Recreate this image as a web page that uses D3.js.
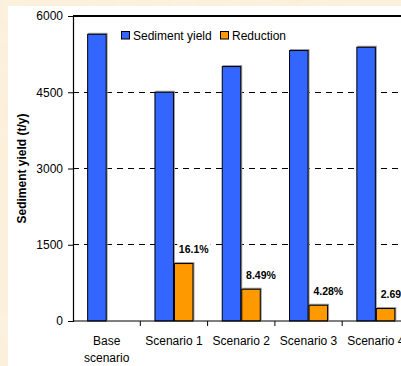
<!DOCTYPE html>
<html>
<head>
<meta charset="utf-8">
<script src="https://cdn.jsdelivr.net/npm/d3@7"></script>
<style>
  html, body { margin: 0; padding: 0; background: #f9ead0; }
  svg { display: block; font-family: Arial, "Liberation Sans", sans-serif; }
</style>
</head>
<body>
<svg id="chart" width="401" height="366"></svg>
<script>
// Sediment yield per scenario and the reduction relative to the base scenario
const categories = ["Base|scenario", "Scenario 1", "Scenario 2", "Scenario 3", "Scenario 4"];
const sedimentYield = [5650, 4510, 5015, 5330, 5395];
const reduction = [0, 1140, 635, 320, 255];
const reductionLabels = ["", "16.1%", "8.49%", "4.28%", "2.69%"];
const yTicks = [0, 1500, 3000, 4500, 6000];
const seriesNames = ["Sediment yield", "Reduction"];
const seriesColors = ["#3366ff", "#ff9900"];

const svg = d3.select("#chart");

// parchment backdrop with a soft mottled texture
const defs = svg.append("defs");
const f = defs.append("filter").attr("id", "paper").attr("x", 0).attr("y", 0).attr("width", "100%").attr("height", "100%");
f.append("feTurbulence").attr("type", "fractalNoise").attr("baseFrequency", "0.035").attr("numOctaves", 3).attr("seed", 4).attr("result", "n");
f.append("feColorMatrix").attr("in", "n").attr("type", "matrix")
  .attr("values", "0 0 0 0 0.965  0 0 0 0 0.895  0 0 0 0 0.775  0 0 0 -0.9 0.75");
svg.append("rect").attr("width", 401).attr("height", 366).attr("fill", "#fbefd8");
svg.append("rect").attr("width", 401).attr("height", 366).attr("filter", "url(#paper)");

// white chart area
svg.append("rect").attr("x", 8).attr("y", 6).attr("width", 393).attr("height", 360).attr("fill", "#ffffff");

const plot = { left: 73, right: 409.5, top: 16, bottom: 321 };

const x = d3.scaleBand().domain(categories).range([plot.left, plot.right]).paddingInner(0).paddingOuter(0);
const xSub = d3.scaleBand().domain(seriesNames).range([0, x.bandwidth()]).paddingInner(0).paddingOuter(0.725);
const y = d3.scaleLinear().domain([0, 6000]).range([plot.bottom, plot.top]);

const clip = defs.append("clipPath").attr("id", "area");
clip.append("rect").attr("x", 0).attr("y", 0).attr("width", 401).attr("height", 366);

const g = svg.append("g").attr("clip-path", "url(#area)");

// dashed gridlines
g.selectAll("line.grid").data(yTicks.filter(t => t > 0 && t < 6000)).join("line")
  .attr("class", "grid")
  .attr("x1", plot.left).attr("x2", plot.right)
  .attr("y1", d => y(d)).attr("y2", d => y(d))
  .attr("stroke", "#000").attr("stroke-width", 1).attr("stroke-dasharray", "6,5")
  .attr("shape-rendering", "crispEdges");

// plot frame (top and right)
g.append("path")
  .attr("d", `M${plot.left},${y(6000)}H${plot.right}V${plot.bottom}`)
  .attr("fill", "none").attr("stroke", "#000").attr("stroke-width", 1.2)
  .attr("shape-rendering", "crispEdges");

// bars
const rows = categories.map((c, i) => ({ c, i, vals: [sedimentYield[i], reduction[i]] }));
const groups = g.selectAll("g.cat").data(rows).join("g").attr("class", "cat")
  .attr("transform", d => `translate(${x(d.c)},0)`);

groups.selectAll("rect.shadow").data(d => d.vals.map((v, k) => ({ v, k })).filter(e => e.v > 0)).join("rect")
  .attr("class", "shadow")
  .attr("x", e => xSub(seriesNames[e.k]) + 1)
  .attr("y", e => y(e.v) - 1)
  .attr("width", xSub.bandwidth())
  .attr("height", e => plot.bottom - y(e.v))
  .attr("fill", "#9a9a9a");

groups.selectAll("rect.bar").data(d => d.vals.map((v, k) => ({ v, k })).filter(e => e.v > 0)).join("rect")
  .attr("class", "bar")
  .attr("x", e => xSub(seriesNames[e.k]) + 0.5)
  .attr("y", e => y(e.v) + 0.5)
  .attr("width", xSub.bandwidth() - 1)
  .attr("height", e => plot.bottom - y(e.v) - 0.5)
  .attr("fill", e => seriesColors[e.k])
  .attr("stroke", "#000").attr("stroke-width", 1);

// percentage labels above reduction bars
const labelRows = rows.filter(d => reductionLabels[d.i] !== "");
const lab = g.selectAll("g.lab").data(labelRows).join("g").attr("class", "lab")
  .attr("transform", d => `translate(${x(d.c) + xSub("Reduction") + xSub.bandwidth() / 2 + 10},${y(reduction[d.i]) - 10})`);
lab.append("text")
  .attr("text-anchor", "middle")
  .attr("font-size", 10.5).attr("font-weight", "bold").attr("fill", "#000")
  .text(d => reductionLabels[d.i])
  .each(function () {
    const b = this.getBBox();
    d3.select(this.parentNode).insert("rect", "text")
      .attr("x", b.x - 1.5).attr("y", b.y).attr("width", b.width + 3).attr("height", b.height)
      .attr("fill", "#fff");
  });

// y axis
const yAxis = d3.axisLeft(y).tickValues(yTicks).tickSize(5).tickPadding(5).tickFormat(d3.format("d"));
const ya = svg.append("g").attr("transform", `translate(${plot.left},0)`).call(yAxis);
ya.select(".domain").attr("stroke", "#000").attr("stroke-width", 1.2);
ya.selectAll(".tick line").attr("stroke", "#000");
ya.selectAll(".tick text").attr("font-size", 12).attr("font-family", "Arial, 'Liberation Sans', sans-serif").attr("fill", "#000");

// x axis with ticks on category boundaries
const xa = svg.append("g").attr("clip-path", "url(#area)");
xa.append("line").attr("x1", plot.left).attr("x2", plot.right).attr("y1", plot.bottom).attr("y2", plot.bottom)
  .attr("stroke", "#000").attr("stroke-width", 1.2);
const bounds = categories.map(c => x(c) + x.bandwidth());
xa.selectAll("line.xt").data(bounds).join("line").attr("class", "xt")
  .attr("x1", d => d).attr("x2", d => d).attr("y1", plot.bottom).attr("y2", plot.bottom + 5)
  .attr("stroke", "#000");
xa.selectAll("text.xl").data(categories).join("text").attr("class", "xl")
  .attr("text-anchor", "middle").attr("font-size", 12).attr("fill", "#000")
  .attr("x", d => x(d) + x.bandwidth() / 2)
  .attr("y", 345)
  .each(function (d) {
    const parts = d.split("|");
    d3.select(this).selectAll("tspan").data(parts).join("tspan")
      .attr("x", x(d) + x.bandwidth() / 2)
      .attr("dy", (p, k) => k === 0 ? 0 : 17)
      .text(p => p);
  });

// y axis title
svg.append("text")
  .attr("transform", `translate(26,${(plot.top + plot.bottom) / 2}) rotate(-90)`)
  .attr("text-anchor", "middle").attr("font-size", 12).attr("font-weight", "bold").attr("fill", "#000")
  .text("Sediment yield (t/y)");

// legend
const legendX = [121, 220];
const leg = svg.selectAll("g.leg").data(seriesNames).join("g").attr("class", "leg")
  .attr("transform", (d, i) => `translate(${legendX[i]},31)`);
leg.append("rect").attr("x", 0.5).attr("y", 0.5).attr("width", 8).attr("height", 7.5)
  .attr("fill", (d, i) => seriesColors[i]).attr("stroke", "#000").attr("stroke-width", 1);
leg.append("text").attr("x", 12).attr("y", 8.5).attr("font-size", 12).attr("fill", "#000").text(d => d);
</script>
</body>
</html>
